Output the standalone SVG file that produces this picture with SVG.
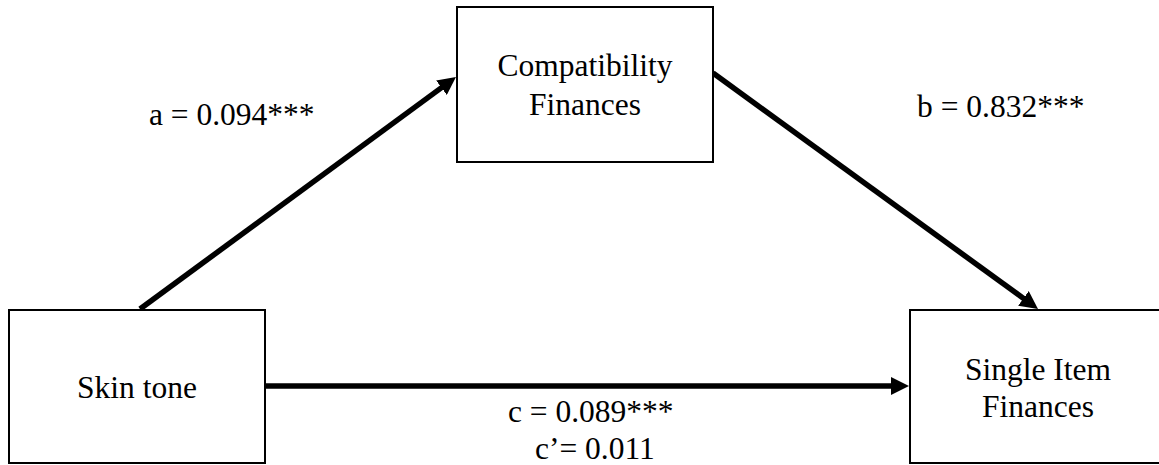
<svg xmlns="http://www.w3.org/2000/svg" width="1159" height="465" viewBox="0 0 1159 465">
  <style>
    .box { fill: #ffffff; stroke: #000000; stroke-width: 2; }
    .lbl { font-family: "Liberation Serif", "Times New Roman", serif; font-size: 31.5px; fill: #000000; }
    .mid { text-anchor: middle; }
    .path { stroke: #000000; stroke-width: 5.5; fill: none; marker-end: url(#head); }
  </style>
  <defs>
    <marker id="head" markerUnits="userSpaceOnUse" markerWidth="18" markerHeight="18" refX="6" refY="9" orient="auto" viewBox="0 0 18 18">
      <path d="M0,0 L18,9 L0,18 z" fill="#000000"/>
    </marker>
  </defs>
  <rect x="0" y="0" width="1159" height="465" fill="#ffffff"/>

  <g id="connectors">
    <line class="path" x1="140" y1="309" x2="446.3" y2="84.1"/>
    <line class="path" x1="713" y1="73" x2="1028.3" y2="301.9"/>
    <line class="path" x1="265" y1="386" x2="897" y2="386"/>
  </g>

  <g id="node-skin-tone">
    <rect class="box" x="9" y="310" width="256" height="153"/>
    <text class="lbl mid" x="137" y="398">Skin tone</text>
  </g>

  <g id="node-compatibility">
    <rect class="box" x="457" y="7" width="256" height="155"/>
    <text class="lbl mid" x="585" y="76">Compatibility</text>
    <text class="lbl mid" x="585" y="115">Finances</text>
  </g>

  <g id="node-single-item">
    <rect class="box" x="910" y="310" width="262" height="153"/>
    <text class="lbl mid" x="1038" y="380">Single Item</text>
    <text class="lbl mid" x="1038" y="417">Finances</text>
  </g>

  <g id="labels">
    <text class="lbl" x="149" y="125">a = 0.094***</text>
    <text class="lbl" x="917" y="117">b = 0.832***</text>
    <text class="lbl" x="508" y="422">c = 0.089***</text>
    <text class="lbl" x="535" y="459">c’= 0.011</text>
  </g>
</svg>
